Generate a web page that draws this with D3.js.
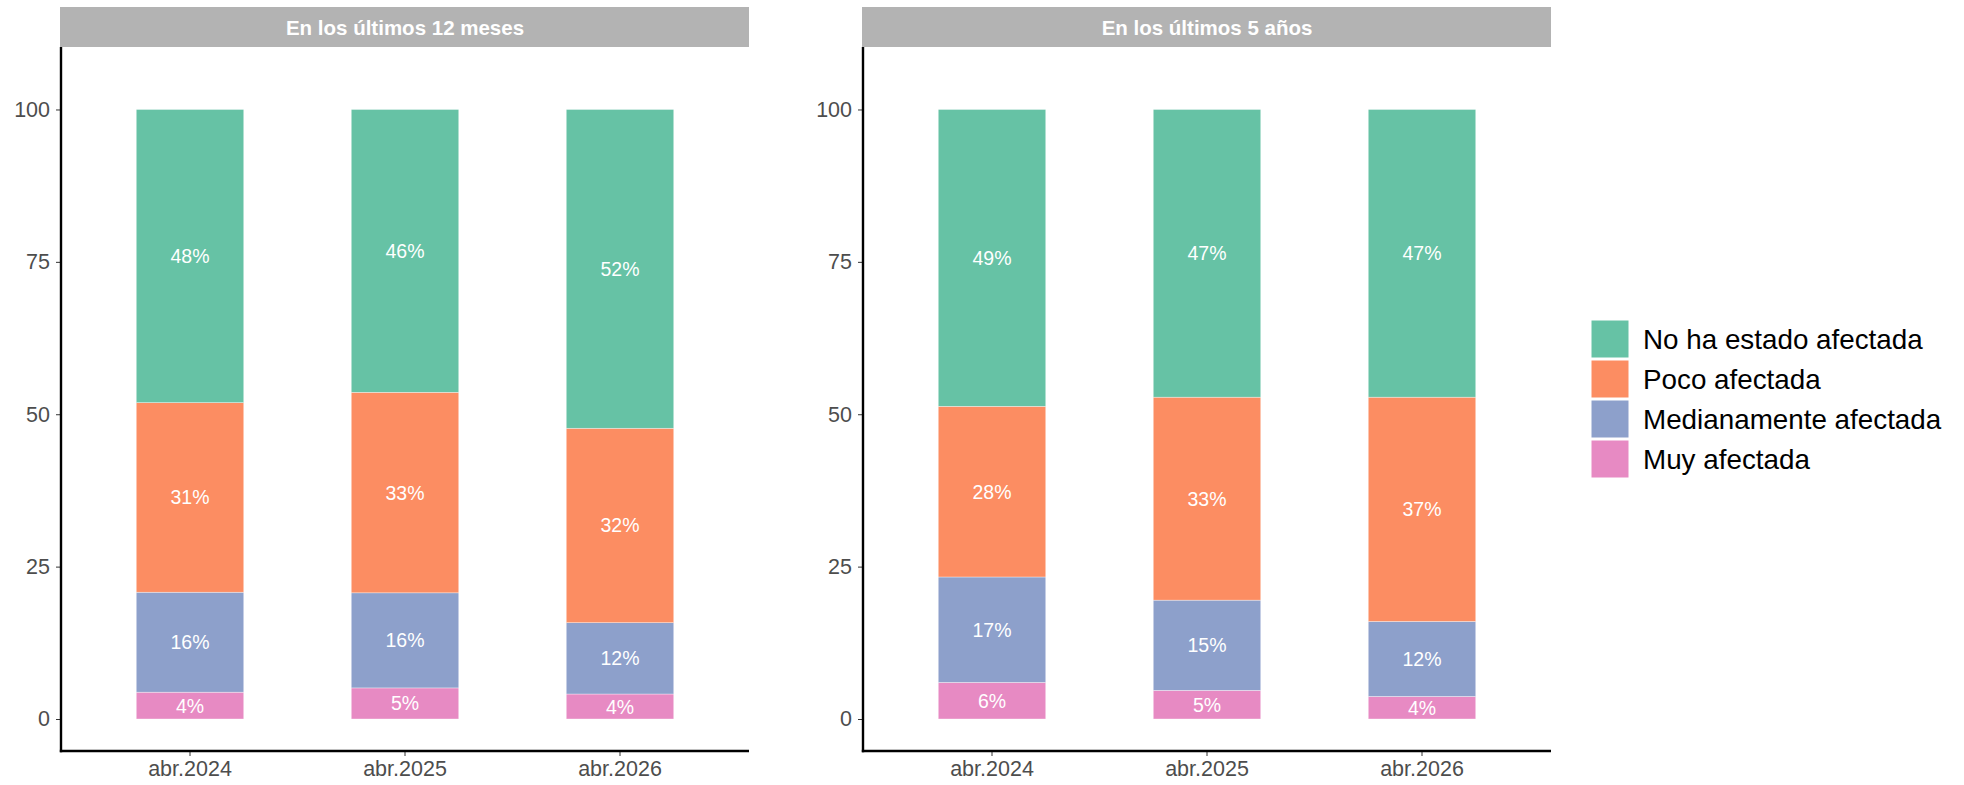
<!DOCTYPE html>
<html>
<head>
<meta charset="utf-8">
<script src="https://cdn.jsdelivr.net/npm/d3@7"></script>
<style>
  html, body { margin: 0; padding: 0; background: #ffffff; }
  svg { display: block; font-family: "Liberation Sans", Arial, sans-serif; }
</style>
</head>
<body>
<svg id="chart" width="1964" height="785"></svg>
<script>
// Survey periods (x categories) and facet titles
const categories = ["abr.2024", "abr.2025", "abr.2026"];
const panelTitles = ["En los últimos 12 meses", "En los últimos 5 años"];

// Response levels, bottom to top of each stack
const seriesNames = ["Muy afectada", "Medianamente afectada", "Poco afectada", "No ha estado afectada"];
const seriesColors = ["#e78ac3", "#8da0cb", "#fc8d62", "#66c2a5"];

// Shares (%) for "En los últimos 12 meses"
const muy12 = [4.4, 5.1, 4.1];
const mediana12 = [16.4, 15.6, 11.7];
const poco12 = [31.1, 32.9, 31.9];
const no12 = [48.1, 46.4, 52.3];

// Shares (%) for "En los últimos 5 años"
const muy5 = [6.0, 4.7, 3.7];
const mediana5 = [17.3, 14.8, 12.3];
const poco5 = [28.0, 33.3, 36.8];
const no5 = [48.7, 47.2, 47.2];

// Y axis ticks
const yTicks = [0, 25, 50, 75, 100];

const panelSeries = [
  [muy12, mediana12, poco12, no12],
  [muy5, mediana5, poco5, no5]
];

const svg = d3.select("#chart");

const panelLeft = [61, 863];
const panelWidth = 688;
const stripTop = 7, stripBottom = 47;
const plotTop = 47, plotBottom = 751;

// y domain: 0..105 with 5% expansion on both sides
const y = d3.scaleLinear().domain([-5.25, 110.25]).range([plotBottom, plotTop]);

panelTitles.forEach((title, p) => {
  const x0 = panelLeft[p];
  const x1 = x0 + panelWidth;
  const g = svg.append("g");

  // facet strip
  g.append("rect")
    .attr("x", x0 - 1).attr("y", stripTop)
    .attr("width", x1 - x0 + 1).attr("height", stripBottom - stripTop)
    .attr("fill", "#b3b3b3");
  g.append("text")
    .attr("x", (x0 + x1) / 2).attr("y", (stripTop + stripBottom) / 2)
    .attr("text-anchor", "middle").attr("dominant-baseline", "central")
    .attr("fill", "#ffffff").attr("font-weight", "bold").attr("font-size", "20.5px")
    .text(title);

  const x = d3.scaleBand().domain(categories).range([x0, x1])
    .paddingInner(0.5).paddingOuter(0.35);

  const rows = categories.map((c, i) => {
    const r = { cat: c };
    seriesNames.forEach((s, k) => { r[s] = panelSeries[p][k][i]; });
    return r;
  });
  const stacked = d3.stack().keys(seriesNames)(rows);

  // bars
  stacked.forEach((layer, k) => {
    g.append("g").selectAll("rect").data(layer).join("rect")
      .attr("x", d => x(d.data.cat))
      .attr("width", x.bandwidth())
      .attr("y", d => y(d[1]))
      .attr("height", d => y(d[0]) - y(d[1]))
      .attr("fill", seriesColors[k])
      .attr("stroke", "#ffffff").attr("stroke-opacity", 0.6).attr("stroke-width", 0.6);
  });

  // value labels centred in each segment
  stacked.forEach((layer) => {
    g.append("g").selectAll("text").data(layer).join("text")
      .attr("x", d => x(d.data.cat) + x.bandwidth() / 2)
      .attr("y", d => y((d[0] + d[1]) / 2))
      .attr("text-anchor", "middle").attr("dominant-baseline", "central")
      .attr("fill", "#ffffff").attr("font-size", "19.5px")
      .text(d => Math.round(d[1] - d[0]) + "%");
  });

  // y axis
  const yAxis = g.append("g").attr("transform", `translate(${x0},0)`)
    .call(d3.axisLeft(y).tickValues(yTicks).tickSize(5).tickPadding(6));
  yAxis.select(".domain").remove();
  yAxis.selectAll(".tick line").attr("stroke", "#333333").attr("stroke-width", 1);
  yAxis.selectAll(".tick text").attr("fill", "#4d4d4d").attr("font-size", "21.5px")
    .attr("font-family", "Liberation Sans, Arial, sans-serif");

  // x axis
  const xAxis = g.append("g").attr("transform", `translate(0,${plotBottom})`)
    .call(d3.axisBottom(x).tickSize(5).tickPadding(5));
  xAxis.select(".domain").remove();
  xAxis.selectAll(".tick line").attr("stroke", "#333333").attr("stroke-width", 1);
  xAxis.selectAll(".tick text").attr("fill", "#4d4d4d").attr("font-size", "21.5px")
    .attr("font-family", "Liberation Sans, Arial, sans-serif");

  // axis lines
  g.append("line").attr("x1", x0).attr("x2", x0).attr("y1", plotTop).attr("y2", plotBottom + 1.2)
    .attr("stroke", "#000000").attr("stroke-width", 2.4);
  g.append("line").attr("x1", x0 - 1.2).attr("x2", x1).attr("y1", plotBottom).attr("y2", plotBottom)
    .attr("stroke", "#000000").attr("stroke-width", 2.4);
});

// legend, top entry first
const legendOrder = seriesNames.slice().reverse();
const legendColors = seriesColors.slice().reverse();
const legend = svg.append("g").attr("transform", "translate(1591,320)");
legendOrder.forEach((name, i) => {
  legend.append("rect")
    .attr("x", 0).attr("y", i * 40)
    .attr("width", 38).attr("height", 38)
    .attr("fill", legendColors[i])
    .attr("stroke", "#ffffff").attr("stroke-width", 1);
  legend.append("text")
    .attr("x", 52).attr("y", i * 40 + 19)
    .attr("dominant-baseline", "central")
    .attr("fill", "#000000").attr("font-size", "27.8px")
    .text(name);
});
</script>
</body>
</html>
